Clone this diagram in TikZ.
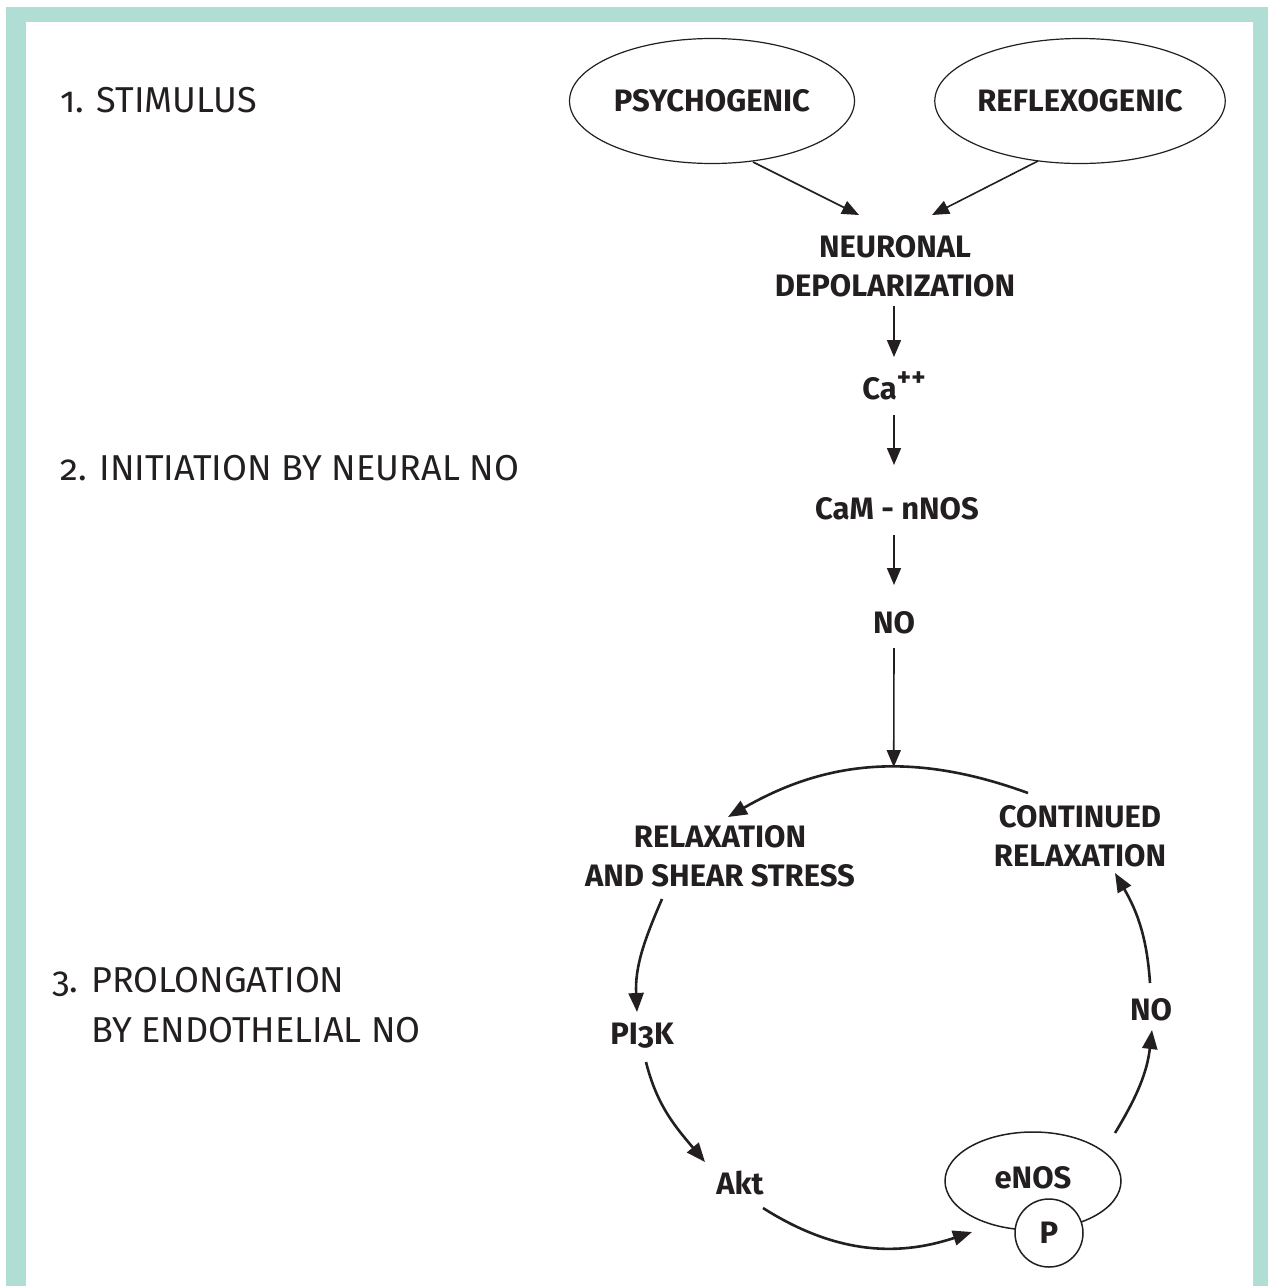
\documentclass[tikz,border=0pt]{standalone}
\usepackage{fontspec}
\setmainfont{Fira Sans}[Numbers=OldStyle]
\usetikzlibrary{arrows.meta,calc,shapes.geometric}
\definecolor{bordercol}{RGB}{176,221,212}
\definecolor{ink}{RGB}{35,31,32}
\begin{document}
\begin{tikzpicture}[x=1pt,y=1pt,color=ink,
  lab/.style={font=\fontsize{36}{50}\selectfont, anchor=west, inner sep=0pt, align=left},
  bx/.style={font=\fontsize{31}{39}\bfseries\selectfont, inner sep=0pt, align=center},
  bxb/.style={bx, anchor=base},
  ell/.style={draw, ellipse, line width=1.2pt, inner sep=0pt, font=\fontsize{31}{39}\bfseries\selectfont},
  arr/.style={line width=1.6pt, -{Triangle[length=17pt,width=14pt]}},
  carr/.style={line width=2.6pt, -{Triangle[length=19pt,width=15pt]}},
]
\useasboundingbox (0,0) rectangle (1268,-1286);
% frame
\fill[bordercol] (6,-7) rectangle (1268,-22);
\fill[bordercol] (6,-7) rectangle (26,-1286);
\fill[bordercol] (1253,-7) rectangle (1268,-1286);

% stage labels
\node[lab] (l1) at (60,-100) {1. STIMULUS};
\node[lab] (l2) at (60,-468) {2. INITIATION BY NEURAL NO};
\node[lab] (l3) at (52,-1007) {3. PROLONGATION\\\phantom{3. }BY ENDOTHELIAL NO};

% stimulus
\node[ell, minimum width=285pt, minimum height=125pt] (psy) at (712,-101) {PSYCHOGENIC};
\node[ell, minimum width=285pt, minimum height=125pt] (refl) at (1080,-101) {REFLEXOGENIC};

% initiation chain
\node[bx] (neur) at (895,-266) {NEURONAL\\DEPOLARIZATION};
\node[bxb] (ca) at (894,-399) {Ca\raisebox{0.40em}{\fontsize{27}{27}\selectfont ++}};
\node[bxb] (cam) at (897,-519) {CaM - nNOS};
\node[bxb] (no1) at (894,-633) {NO};

% cycle
\node[bx] (relax) at (720,-856) {RELAXATION\\AND SHEAR STRESS};
\node[bx] (cont) at (1080,-836) {CONTINUED\\RELAXATION};
\node[bxb] (pi3k) at (642,-1044) {PI3K};
\node[bxb] (akt) at (740,-1194) {Akt};
\node[ell, line width=1.5pt, minimum width=176pt, minimum height=98pt, text depth=8pt] (enos) at (1033,-1181) {eNOS};
\node[circle, draw, fill=white, line width=1.5pt, minimum size=68pt, inner sep=0pt,
      font=\fontsize{31}{39}\bfseries\selectfont] (p) at (1049,-1233) {P};
\node[bxb] (no2) at (1151,-1020) {NO};

% straight arrows
\draw[arr] ($(psy)+(41,-61)$) -- ($(neur)+(-36,51)$);
\draw[arr] ($(refl)+(-42,-60)$) -- ($(neur)+(37,51)$);
\draw[arr] ($(neur)+(-1,-40)$) -- ($(ca.base)+(0,42)$);
\draw[arr] ($(ca.base)+(0,-16)$) -- ($(cam.base)+(-3,54)$);
\draw[arr] ($(cam.base)+(-3,-16)$) -- ($(no1.base)+(0,48)$);

% cycle arrows
\draw[carr] ($(cont)+(-52,43)$) to[out=160,in=30] coordinate[pos=0.435] (arctop) ($(relax)+(8,39)$);
\draw[arr] ($(no1.base)+(0,-15)$) -- (arctop);
\draw[carr] ($(relax)+(-58,-43)$) to[out=246.6,in=92.7] ($(pi3k.base)+(-5,32)$);
\draw[carr] ($(pi3k.base)+(4,-18)$) to[out=284,in=130] ($(akt.base)+(-35,32)$);
\draw[carr] ($(akt.base)+(23,-14)$) to[out=327.6,in=198.4] ($(enos)+(-61,-51)$);
\draw[carr] ($(enos)+(82,48)$) to[out=58.8,in=263.3] ($(no2.base)+(1,-10)$);
\draw[carr] ($(no2.base)+(-1,37)$) to[out=93.8,in=300] ($(cont)+(35,-37)$);
\end{tikzpicture}
\end{document}
